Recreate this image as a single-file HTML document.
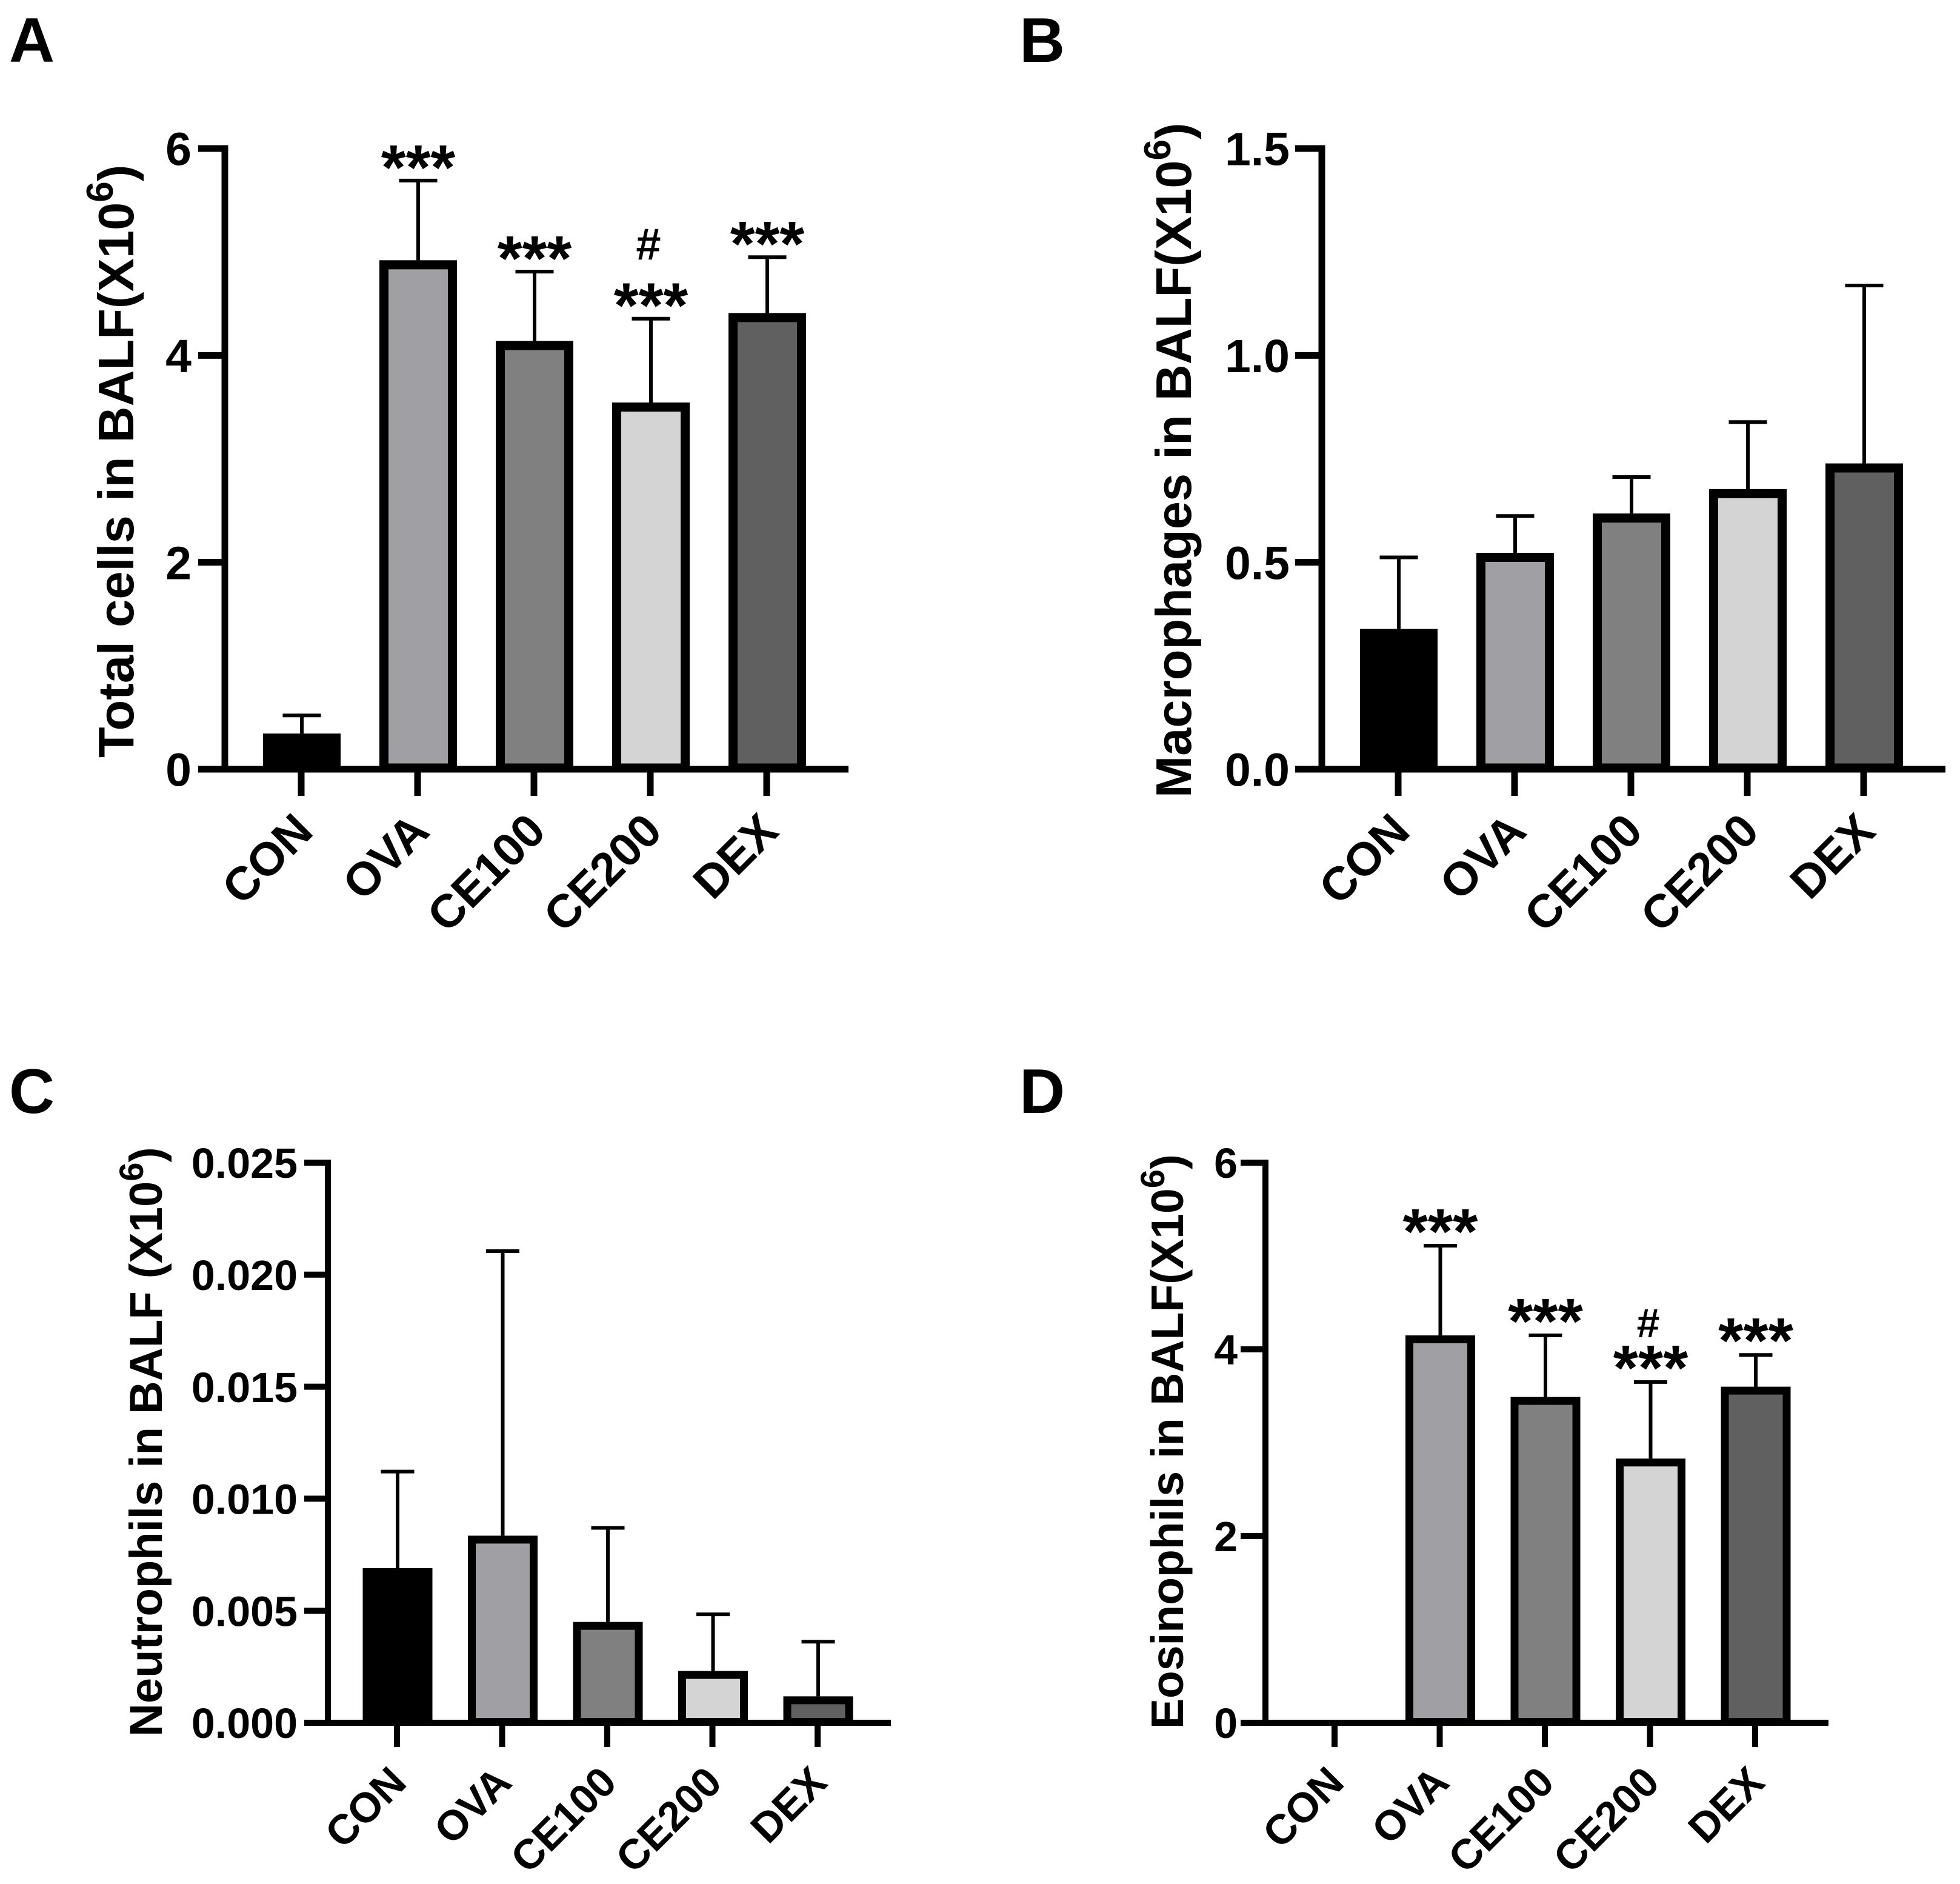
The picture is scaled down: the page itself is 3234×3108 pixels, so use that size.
<!DOCTYPE html>
<html lang="en">
<head>
<meta charset="utf-8">
<title>BALF cell counts</title>
<style>
html,body{margin:0;padding:0;background:#fff;width:3234px;height:3108px;overflow:hidden}
svg{display:block}
text{font-family:"Liberation Sans",Arial,sans-serif;font-weight:bold;fill:#000}
</style>
</head>
<body>
<svg id="figure" xmlns="http://www.w3.org/2000/svg" width="3234" height="3108" viewBox="0 0 3234 3108">
  <rect x="0" y="0" width="3234" height="3108" fill="#fff"/>
  <text x="15" y="102" font-size="104">A</text>
  <text x="1682" y="102" font-size="104">B</text>
  <text x="15" y="1836" font-size="104">C</text>
  <text x="1682" y="1836" font-size="104">D</text>

  <text transform="translate(220,1250) rotate(-90)" font-size="83">Total cells in BALF(X10<tspan font-size="62" dy="-34">6</tspan><tspan dy="34">)</tspan></text>
  <text transform="translate(1965,1316) rotate(-90)" font-size="83">Macrophages in BALF(X10<tspan font-size="62" dy="-34">6</tspan><tspan dy="34">)</tspan></text>
  <text transform="translate(267,2865) rotate(-90)" font-size="76">Neutrophils in BALF (X10<tspan font-size="56" dy="-31">6</tspan><tspan dy="31">)</tspan></text>
  <text transform="translate(1952,2852) rotate(-90)" font-size="75">Eosinophils in BALF(X10<tspan font-size="56" dy="-31">6</tspan><tspan dy="31">)</tspan></text>
</svg>
<script>
const categories = ['CON', 'OVA', 'CE100', 'CE200', 'DEX'];
const barColors = ['#000000', '#a0a0a4', '#808080', '#d4d4d4', '#606060'];

const totalCellsMeans = [0.345, 4.92, 4.14, 3.545, 4.41];
const totalCellsErrorTops = [0.52, 5.69, 4.81, 4.355, 4.95];
const totalCellsStars = ['', '***', '***', '***', '***'];
const totalCellsHashes = ['', '', '', '#', ''];
const totalCellsTicks = ['0', '2', '4', '6'];

const macrophageMeans = [0.339, 0.523, 0.618, 0.677, 0.739];
const macrophageErrorTops = [0.512, 0.612, 0.706, 0.839, 1.169];
const macrophageStars = ['', '', '', '', ''];
const macrophageHashes = ['', '', '', '', ''];
const macrophageTicks = ['0.0', '0.5', '1.0', '1.5'];

const neutrophilMeans = [0.0069, 0.00835, 0.0045, 0.00231, 0.00118];
const neutrophilErrorTops = [0.01121, 0.02105, 0.0087, 0.00484, 0.00362];
const neutrophilStars = ['', '', '', '', ''];
const neutrophilHashes = ['', '', '', '', ''];
const neutrophilTicks = ['0.000', '0.005', '0.010', '0.015', '0.020', '0.025'];

const eosinophilMeans = [0, 4.15, 3.49, 2.83, 3.6];
const eosinophilErrorTops = [0, 5.11, 4.15, 3.65, 3.94];
const eosinophilStars = ['', '***', '***', '***', '***'];
const eosinophilHashes = ['', '', '', '#', ''];
const eosinophilTicks = ['0', '2', '4', '6'];

const svg = document.getElementById('figure');
const NS = 'http://www.w3.org/2000/svg';

function make(tag, props, parent) {
  const el = document.createElementNS(NS, tag);
  for (const k in props) el.setAttribute(k, props[k]);
  parent.appendChild(el);
  return el;
}

function drawPanel(key, means, tops, stars, hashes, ticks, L) {
  const g = make('g', {}, svg);
  
  

  const tickValues = ticks.map(Number);
  const yMax = tickValues[tickValues.length - 1];
  const yPos = v => L.base - (v / yMax) * (L.base - L.top);
  const xPos = i => L.firstTick + i * L.step;

  means.forEach((m, i) => {
    const cx = xPos(i) + 1;
    const yTop = yPos(m);
    const yErr = yPos(tops[i]);
    if (tops[i] > m) {
      const stem = make('line', {x1: cx, x2: cx, y1: yErr, y2: yTop, stroke: '#000', 'stroke-width': 6}, g);
      
      
      const cap = make('line', {x1: cx - L.cap / 2, x2: cx + L.cap / 2, y1: yErr, y2: yErr, stroke: '#000', 'stroke-width': 6}, g);
      
      
    }
    if (m > 0) {
      const bottom = L.base + L.axisW / 2 - L.border / 2;
      const bar = make('rect', {
        x: cx - L.barW / 2 + L.border / 2,
        y: yTop + L.border / 2,
        width: L.barW - L.border,
        height: Math.max(0, bottom - yTop - L.border / 2),
        fill: barColors[i], stroke: '#000', 'stroke-width': L.border
      }, g);
      
      
    }
    if (stars[i]) {
      const s = make('text', {x: cx, y: yErr + L.starGap, 'font-size': L.starSize, 'text-anchor': 'middle'}, g);
      s.textContent = stars[i];
      
      
    }
    if (hashes[i]) {
      const h = make('text', {x: cx - 4, y: yErr - L.hashGap, 'font-size': L.hashSize, 'text-anchor': 'middle'}, g);
      h.textContent = hashes[i];
      
      
    }
  });

  const yAxis = make('line', {x1: L.axis, x2: L.axis, y1: L.top - L.axisW / 2, y2: L.base, stroke: '#000', 'stroke-width': L.axisW}, g);
  
  
  const xAxis = make('line', {x1: L.tickLeft, x2: L.xEnd, y1: L.base, y2: L.base, stroke: '#000', 'stroke-width': L.axisW}, g);
  
  

  ticks.forEach((label, i) => {
    const y = yPos(tickValues[i]);
    const t = make('line', {x1: L.tickLeft, x2: L.axis, y1: y, y2: y, stroke: '#000', 'stroke-width': L.axisW}, g);
    
    
    const lab = make('text', {x: L.labelRight, y: y + L.tickSize * 0.36, 'font-size': L.tickSize, 'text-anchor': 'end'}, g);
    lab.textContent = label;
    
    
  });

  categories.forEach((c, i) => {
    const x = xPos(i);
    const t = make('line', {x1: x, x2: x, y1: L.base, y2: L.base + L.tickLen, stroke: '#000', 'stroke-width': L.axisW}, g);
    
    
    const lx = x + L.catDx, ly = L.base + L.catDy;
    const lab = make('text', {x: lx, y: ly, 'font-size': L.catSize, 'text-anchor': 'end', transform: 'rotate(-45 ' + lx + ' ' + ly + ')'}, g);
    lab.textContent = c;
    
    
  });
}

const wideLayout = {top: 245, base: 1269, step: 192, barW: 128, border: 15, cap: 63, axisW: 11, tickLen: 44,
  starSize: 105, starGap: 14, hashSize: 74, hashGap: 97, tickSize: 77, catSize: 77, catDx: 23, catDy: 106};
const narrowLayout = {top: 1918, base: 2842, step: 173.5, barW: 115, border: 13, cap: 55, axisW: 10, tickLen: 40,
  starSize: 106, starGap: 13, hashSize: 68, hashGap: 74, tickSize: 70, catSize: 69, catDx: 19, catDy: 102};

drawPanel('a', totalCellsMeans, totalCellsErrorTops, totalCellsStars, totalCellsHashes, totalCellsTicks,
  Object.assign({}, wideLayout, {axis: 371, tickLeft: 327, firstTick: 497, xEnd: 1400, labelRight: 316}));
drawPanel('b', macrophageMeans, macrophageErrorTops, macrophageStars, macrophageHashes, macrophageTicks,
  Object.assign({}, wideLayout, {axis: 2181, tickLeft: 2137, firstTick: 2307, xEnd: 3210, labelRight: 2128}));
drawPanel('c', neutrophilMeans, neutrophilErrorTops, neutrophilStars, neutrophilHashes, neutrophilTicks,
  Object.assign({}, narrowLayout, {axis: 541, tickLeft: 502, firstTick: 655, xEnd: 1470, labelRight: 491}));
drawPanel('d', eosinophilMeans, eosinophilErrorTops, eosinophilStars, eosinophilHashes, eosinophilTicks,
  Object.assign({}, narrowLayout, {axis: 2088, tickLeft: 2047, firstTick: 2202, xEnd: 3017, labelRight: 2042}));
</script>
</body>
</html>
